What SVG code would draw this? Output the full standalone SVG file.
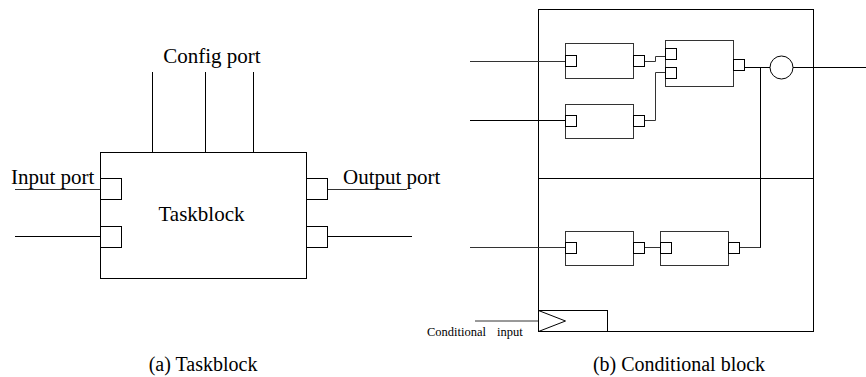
<svg xmlns="http://www.w3.org/2000/svg" width="866" height="377" viewBox="0 0 866 377">
<style>
.s{fill:none;stroke:#000;stroke-width:1}
.g{fill:none;stroke:#333;stroke-width:1}
.p{fill:#fff;stroke:#000;stroke-width:1}
.t{font-family:"Liberation Serif","Times New Roman",serif;fill:#000}
.lbl{font-size:21px}
.cap{font-size:20px}
.sm{font-size:12.5px}
</style>
<rect width="866" height="377" fill="#fff"/>

<!-- (a) Taskblock -->
<g id="taskblock">
<rect class="s" x="100.5" y="152.5" width="206" height="126"/>
<text class="t lbl" x="201.5" y="220.5" text-anchor="middle">Taskblock</text>
</g>
<g id="tb-in1"><rect class="p" x="100.5" y="178.5" width="21" height="21"/></g>
<g id="tb-in2"><rect class="p" x="100.5" y="226.5" width="21" height="21"/></g>
<g id="tb-out1"><rect class="p" x="306.5" y="178.5" width="21" height="21"/></g>
<g id="tb-out2"><rect class="p" x="306.5" y="226.5" width="21" height="21"/></g>
<g id="labels-a">
<text class="t lbl" x="212" y="63" text-anchor="middle">Config port</text>
<text class="t lbl" x="11" y="184">Input port</text>
<text class="t lbl" x="343" y="184">Output port</text>
<text class="t cap" x="203" y="371" text-anchor="middle">(a) Taskblock</text>
</g>

<!-- (b) Conditional block -->
<g id="cond-block">
<rect class="s" x="538.5" y="9.5" width="275" height="322"/>
<line class="s" x1="538.5" y1="178.5" x2="813.5" y2="178.5"/>
</g>
<g id="A1">
<rect class="g" x="565.5" y="43.5" width="68" height="35"/>
<rect class="p" x="565.5" y="55.5" width="11" height="11"/>
<rect class="p" x="633.5" y="55.5" width="11" height="11"/>
</g>
<g id="A2">
<rect class="g" x="565.5" y="104.5" width="68" height="34"/>
<rect class="p" x="565.5" y="115.5" width="11" height="11"/>
<rect class="p" x="633.5" y="115.5" width="11" height="11"/>
</g>
<g id="B">
<rect class="g" x="665.5" y="40.5" width="68" height="46"/>
<rect class="p" x="665.5" y="48.5" width="11" height="11"/>
<rect class="p" x="665.5" y="67.5" width="11" height="11"/>
<rect class="p" x="733.5" y="59.5" width="11" height="11"/>
</g>
<g id="C1">
<rect class="g" x="565.5" y="231.5" width="68" height="34"/>
<rect class="p" x="565.5" y="242.5" width="11" height="11"/>
<rect class="p" x="633.5" y="242.5" width="11" height="11"/>
</g>
<g id="C2">
<rect class="g" x="660.5" y="231.5" width="68" height="34"/>
<rect class="p" x="660.5" y="242.5" width="11" height="11"/>
<rect class="p" x="728.5" y="242.5" width="11" height="11"/>
</g>
<g id="merge">
<circle class="s" cx="781.5" cy="67.5" r="11.5"/>
</g>
<g id="cond-input">
<rect class="s" x="538.5" y="310.5" width="69" height="21"/>
<polyline class="s" points="538.5,310.5 565.5,321 538.5,331.5"/>
<text class="t sm" x="427" y="336">Conditional<tspan x="497">input</tspan></text>
</g>
<g id="labels-b">
<text class="t cap" x="679" y="371" text-anchor="middle">(b) Conditional block</text>
</g>

<g id="connectors">
<!-- taskblock -->
<line class="g" x1="15" y1="189.5" x2="100" y2="189.5"/>
<line class="s" x1="15" y1="236.5" x2="100" y2="236.5"/>
<line class="g" x1="328" y1="189.5" x2="407" y2="189.5"/>
<line class="s" x1="328" y1="236.5" x2="412" y2="236.5"/>
<line class="s" x1="152.5" y1="72" x2="152.5" y2="152"/>
<line class="s" x1="205.5" y1="72" x2="205.5" y2="152"/>
<line class="s" x1="253.5" y1="72" x2="253.5" y2="152"/>
<!-- conditional block -->
<line class="g" x1="470" y1="61.5" x2="565" y2="61.5"/>
<line class="s" x1="470" y1="120.5" x2="565" y2="120.5"/>
<line class="g" x1="470" y1="247.5" x2="565" y2="247.5"/>
<polyline class="g" points="645,61.5 655.5,61.5 655.5,56.5 665,56.5"/>
<polyline class="g" points="645,120.5 655.5,120.5 655.5,72.5 665,72.5"/>
<line class="s" x1="745" y1="67.5" x2="770" y2="67.5"/>
<line class="s" x1="793" y1="67.5" x2="866" y2="67.5"/>
<line class="s" x1="760.5" y1="67.5" x2="760.5" y2="248"/>
<line class="g" x1="645" y1="247.5" x2="660" y2="247.5"/>
<line class="g" x1="740" y1="247.5" x2="760.5" y2="247.5"/>
<line class="g" x1="475" y1="321" x2="538" y2="321"/>
</g>
</svg>
